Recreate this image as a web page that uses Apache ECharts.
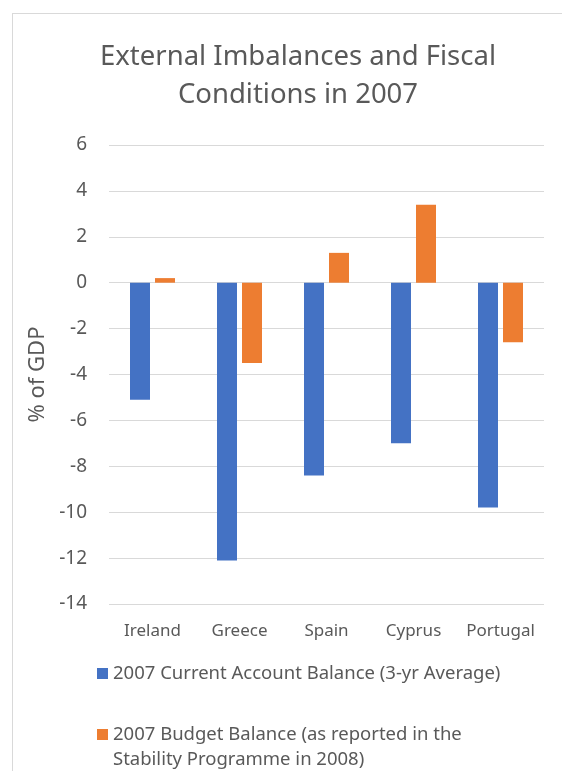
<html>
<head>
<meta charset="utf-8">
<title>External Imbalances and Fiscal Conditions in 2007</title>
<script src="https://cdn.jsdelivr.net/npm/echarts@6/dist/echarts.min.js"></script>
<style>
  body { margin: 0; background: #fff; }
  #frame { position: absolute; left: 12px; top: 13px; width: 620px; height: 820px; border: 1px solid #d9d9d9; }
  #main { position: absolute; left: 0; top: 0; width: 562px; height: 771px; }
</style>
</head>
<body>
<div id="frame"></div>
<div id="main"></div>
<script type="text/javascript">
// data
var countries = ['Ireland', 'Greece', 'Spain', 'Cyprus', 'Portugal'];
var currentAccount = [-5.1, -12.1, -8.4, -7.0, -9.8];
var budgetBalance = [0.2, -3.5, 1.3, 3.4, -2.6];
var seriesNames = [
    '2007 Current Account Balance (3-yr Average)',
    '2007 Budget Balance (as reported in the Stability Programme in 2008)'
];

var font = '"Noto Sans", sans-serif';
var grey = '#595959';

var myChart = echarts.init(document.getElementById('main'));

var option = {
    animation: false,
    title: {
        text: 'External Imbalances and Fiscal\nConditions in 2007',
        left: 293,
        top: 33,
        textAlign: 'center',
        textStyle: {
            fontFamily: font,
            fontSize: 27.5,
            fontWeight: 'normal',
            color: grey,
            lineHeight: 38
        }
    },
    grid: { left: 109, right: 18, top: 145, bottom: 167 },
    xAxis: {
        type: 'category',
        data: countries,
        axisLine: { show: false, onZero: false },
        axisTick: { show: false },
        axisLabel: { interval: 0, fontFamily: font, fontSize: 17, color: grey, margin: 19 }
    },
    yAxis: {
        type: 'value',
        min: -14,
        max: 6,
        interval: 2,
        name: '% of GDP',
        nameLocation: 'middle',
        nameGap: 60,
        nameTextStyle: { fontFamily: font, fontSize: 22, color: grey },
        axisLine: { show: false },
        axisTick: { show: false },
        axisLabel: { fontFamily: font, fontSize: 19, color: grey, margin: 22 },
        splitLine: { lineStyle: { color: '#d9d9d9', width: 1 } }
    },
    legend: [{
        data: [seriesNames[0]],
        orient: 'vertical',
        left: 97,
        top: 664,
        padding: 0,
        icon: 'rect',
        itemWidth: 11,
        itemHeight: 11,
        textStyle: { fontFamily: font, fontSize: 18.5, color: grey }
    }, {
        data: [seriesNames[1]],
        orient: 'vertical',
        left: 97,
        top: 697,
        padding: 0,
        icon: 'rect',
        itemWidth: 11,
        itemHeight: 11,
        // empty first line keeps the marker level with the first text line
        formatter: function (name) {
            return '\u00a0\n' + name.replace(' Stability', '\nStability');
        },
        textStyle: { fontFamily: font, fontSize: 18.5, color: grey, lineHeight: 25 }
    }],
    series: [{
        name: seriesNames[0],
        type: 'bar',
        data: currentAccount,
        barWidth: 20,
        barGap: '25%',
        itemStyle: { color: '#4472c4' }
    }, {
        name: seriesNames[1],
        type: 'bar',
        data: budgetBalance,
        barWidth: 20,
        barGap: '25%',
        itemStyle: { color: '#ed7d31' }
    }]
};
myChart.setOption(option);
</script>
</body>
</html>
